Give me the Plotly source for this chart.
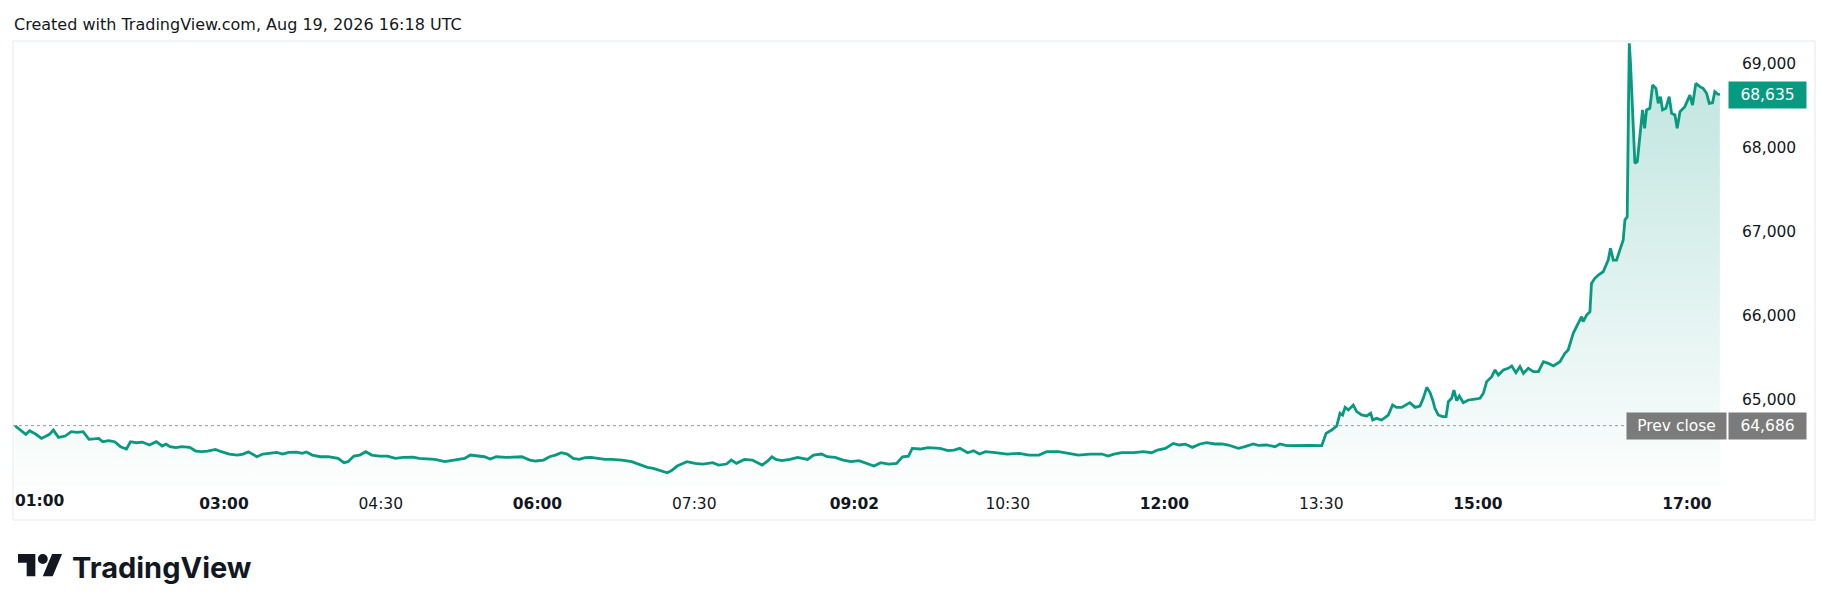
import pandas as pd
import plotly.graph_objects as go

# minutes after 01:00 local time, and price
mins = [
    0, 3.9, 6.2, 8.4, 11.8, 15.2, 17.5, 19.8, 22.0, 25.0, 28.8, 32.3, 35.7, 39.1, 42.5, 45.9,
    48.1, 50.4, 53.8, 57.2, 60.6, 64.0, 66.3, 69.7, 73.1, 77.2, 81.1, 84.5, 86.7, 89.0, 92.4,
    95.8, 100.3, 103.8, 107.2, 110.6, 115.1, 118.5, 123.1, 127.6, 131.0, 134.0, 138.9, 142.3,
    145.8, 150.3, 153.7, 157.1, 161.6, 165.0, 167.3, 170.7, 175.3, 179.8, 185.5, 188.9, 191.2,
    194.6, 198.0, 201.4, 204.8, 209.3, 213.9, 218.4, 222.9, 228.6, 232.0, 236.6, 241.1, 246.8,
    250.2, 254.7, 258.1, 261.5, 266.1, 269.5, 272.9, 276.3, 282.0, 286.5, 291.0, 295.6, 299.0,
    303.5, 306.9, 310.3, 313.7, 317.1, 320.5, 323.9, 327.4, 330.8, 334.2, 338.7,
    342.7, 348.4, 354.1, 359.7, 363.1, 366.5, 370.0, 374.5, 376.8, 380.2, 385.8, 390.4, 394.9,
    400.6, 404.0, 408.5, 411.3, 414.2, 418.8, 423.3, 429.0, 432.4, 434.6, 436.9, 440.3, 444.9,
    449.4, 455.1, 458.5, 463.0, 466.4, 470.9, 475.5, 480.0, 484.6, 489.1, 493.2, 497.1, 501.6,
    506.2, 509.6, 513.0, 515.2, 519.8, 524.3, 531.1, 535.7, 539.1, 542.5, 547.0, 550.4, 553.8,
    557.2, 562.9, 569.7, 576.5, 582.2, 587.9, 592.4, 599.2, 604.9, 610.6, 617.4, 624.2, 627.6,
    631.0, 635.5, 642.4, 648.0, 652.6, 656.0, 660.5, 665.1, 668.5, 671.9, 676.0,
    680.4, 684.2, 689.0, 692.8, 696.7, 702.4, 706.2, 711.0, 713.9, 718.7, 723.5, 726.3, 730.2,
    735.9, 743.6, 750.3, 752.8, 756.0, 758.9, 760.8, 762.3, 763.7, 765.6, 768.4, 770.4, 773.2,
    776.1, 778.4, 779.6, 781.8, 784.7, 788.5, 791.0, 793.3, 796.2, 800.9, 803.9, 806.7, 808.6,
    810.6, 812.5, 814.0, 815.3, 817.2, 819.7, 821.7, 823.0, 824.9, 826.2, 827.8, 829.3, 831.6,
    834.5, 837.3, 841.2, 843.1, 845.0, 847.9, 849.8, 851.7, 854.6, 857.4, 859.4, 861.8, 864.1,
    866.1, 868.9, 871.8, 874.7, 877.6, 880.4, 883.3, 887.1,
    889.9, 891.8, 894.7, 897.6, 899.5, 900.4, 902.4, 904.3, 905.2, 907.1, 909.1, 911.9, 914.8,
    916.1, 917.7, 919.6, 921.5, 923.4, 924.4, 925.7, 926.5, 926.9, 927.6, 929.2, 930.1, 931.5,
    932.6, 934.5, 935.7, 936.8, 938.7, 940.3, 942.2, 943.5, 944.8, 946.0, 947.9, 949.8, 951.2,
    953.1, 954.4, 956.0, 958.8, 961.7, 963.2, 965.1, 967.4, 969.3, 971.3, 972.8, 974.7, 976.0,
    977.6, 978.9,
]
price = [
    64685, 64614, 64582, 64625, 64586, 64534, 64562, 64582, 64633, 64546, 64562, 64614, 64606,
    64614, 64522, 64530, 64534, 64494, 64506, 64494, 64435, 64407, 64494, 64482, 64490, 64455,
    64494, 64443, 64466, 64435, 64423, 64435, 64427, 64383, 64375, 64383, 64403, 64375, 64347,
    64335, 64347, 64375, 64315, 64347, 64355, 64367, 64347, 64367, 64371, 64355, 64371, 64335,
    64315, 64315, 64295, 64244, 64256, 64323, 64335, 64375, 64335, 64323, 64323, 64295, 64307,
    64311, 64295, 64291, 64283, 64256, 64268, 64283, 64295, 64335, 64323, 64315, 64287, 64315,
    64307, 64307, 64315, 64275, 64264, 64275, 64315, 64335, 64363, 64347, 64295, 64283, 64303,
    64307, 64295, 64283,
    64283, 64275, 64256, 64216, 64188, 64176, 64156, 64124, 64148, 64204, 64256, 64236, 64228,
    64244, 64216, 64228, 64275, 64236, 64283, 64275, 64216, 64268, 64315, 64283, 64268, 64283,
    64307, 64283, 64335, 64347, 64315, 64307, 64275, 64256, 64268, 64236, 64204, 64244, 64228,
    64236, 64315, 64323, 64415, 64407, 64423, 64415, 64387, 64395, 64415, 64363, 64387, 64347,
    64375, 64363, 64347, 64355, 64335, 64335, 64375, 64375, 64355, 64335, 64347, 64347, 64323,
    64347, 64363, 64363, 64375, 64363, 64395, 64415, 64474, 64455, 64466, 64427,
    64467, 64483, 64467, 64467, 64455, 64415, 64435, 64467, 64451, 64455, 64435, 64467, 64447,
    64451, 64451, 64447, 64594, 64634, 64682, 64833, 64813, 64904, 64873, 64932, 64853, 64813,
    64801, 64833, 64753, 64773, 64753, 64813, 64932, 64904, 64904, 64960, 64904, 64920, 65012,
    65143, 65080, 64992, 64893, 64813, 64793, 64793, 64972, 65012, 65111, 64984, 65040, 64960,
    64992, 65000, 65012, 65072, 65211, 65270, 65350, 65290, 65350, 65370, 65398, 65318, 65390,
    65310, 65370, 65330, 65330, 65449, 65429, 65398, 65449,
    65548, 65588, 65787, 65906, 65986, 65926, 66005, 66045, 66383, 66443, 66483, 66522, 66661,
    66801, 66661, 66661, 66781, 66900, 67139, 67178, 68610, 69247, 69008, 68213, 67815, 67835,
    68093, 68451, 68232, 68451, 68471, 68749, 68709, 68530, 68610, 68451, 68471, 68610, 68411,
    68391, 68232, 68431, 68491, 68630, 68510, 68769, 68729, 68709, 68650, 68530, 68538, 68670,
    68642, 68635,
]

prev_close = 64686
y_ticks = [65000, 66000, 67000, 68000, 69000]
x_tick_times = ["03:00", "04:30", "06:00", "07:30", "09:02", "10:30", "12:00", "13:30", "15:00", "17:00"]
bold_ticks = ["03:00", "06:00", "09:02", "12:00", "15:00", "17:00"]

day = "2026-08-19 "
times = pd.Timestamp(day + "01:00") + pd.to_timedelta(mins, unit="min")

GREEN = "#089981"
TXT = "#131722"
FONT = "DejaVu Sans"

# the page body adds 8px around the figure, so work in page pixels and subtract it
OFF = 8
W, H = 1830 - OFF, 611 - OFF
L, R, T, B = 13, 1727, 41, 487  # plot pane in page pixels
def px(x):
    return (x - L) / (R - L)
def py(y):
    return (B - y) / (B - T)

y_lo, y_hi = 63954, 69274

fig = go.Figure()
fig.add_trace(go.Scatter(
    x=times, y=price, mode="lines",
    line=dict(color=GREEN, width=2.8),
    fill="tozeroy",
    fillgradient=dict(type="vertical", start=y_lo, stop=y_hi,
                      colorscale=[[0, "rgba(8,153,129,0.01)"], [1, "rgba(8,153,129,0.27)"]]),
    hoverinfo="skip", showlegend=False,
))

tick_text = [f"<b>{t}</b>" if t in bold_ticks else t for t in x_tick_times]

fig.update_layout(
    width=W, height=H,
    margin=dict(l=L - OFF, r=1830 - R, t=T - OFF, b=611 - B),
    paper_bgcolor="white", plot_bgcolor="white",
    font=dict(family=FONT, size=15.5, color=TXT),
    xaxis=dict(
        type="date",
        range=[pd.Timestamp(day + "01:00") - pd.Timedelta(minutes=1.15),
               pd.Timestamp(day + "01:00") + pd.Timedelta(minutes=983)],
        tickvals=[pd.Timestamp(day + t) for t in x_tick_times],
        ticktext=tick_text,
        showgrid=False, zeroline=False, showline=False, ticks="",
        ticklabelstandoff=5,
    ),
    yaxis=dict(
        side="right",
        range=[y_lo, y_hi],
        tickvals=y_ticks,
        ticktext=[f"{v:,}" for v in y_ticks],
        showgrid=False, zeroline=False, showline=False, ticks="",
        ticklabelstandoff=14,
    ),
)

# prev close dotted line
fig.add_shape(type="line", xref="paper", yref="y", x0=0, x1=1, y0=prev_close, y1=prev_close,
              line=dict(color="#9598a1", width=1, dash="dot"))

# frame around chart and time axis
fig.add_shape(type="rect", xref="paper", yref="paper",
              x0=px(13), x1=px(1815), y0=py(520), y1=py(41),
              line=dict(color="#e6e8ee", width=1), layer="below")

# first time label sits left-aligned at the pane edge
fig.add_annotation(x=pd.Timestamp(day + "01:00"), xref="x", y=py(501), yref="paper",
                   text="<b>01:00</b>", showarrow=False, xanchor="left", yanchor="middle",
                   xshift=-2, font=dict(family=FONT, size=15.5, color=TXT))

# price labels
fig.add_annotation(x=1, xref="paper", y=price[-1], yref="y", text=f"{price[-1]:,}",
                   showarrow=False, xanchor="left", yanchor="middle", xshift=1,
                   width=77, height=26, bgcolor=GREEN, borderpad=0,
                   font=dict(family=FONT, size=15.5, color="white"))
fig.add_annotation(x=1, xref="paper", y=prev_close, yref="y", text="Prev close",
                   showarrow=False, xanchor="right", yanchor="middle",
                   width=99, height=26, bgcolor="#7b7b7b", borderpad=0,
                   font=dict(family=FONT, size=15.5, color="white"))
fig.add_annotation(x=1, xref="paper", y=prev_close, yref="y", text=f"{prev_close:,}",
                   showarrow=False, xanchor="left", yanchor="middle", xshift=1,
                   width=77, height=26, bgcolor="#7b7b7b", borderpad=0,
                   font=dict(family=FONT, size=15.5, color="white"))

# header
fig.add_annotation(x=px(12), xref="paper", y=py(24), yref="paper",
                   text="Created with TradingView.com, Aug 19, 2026 16:18 UTC",
                   showarrow=False, xanchor="left", yanchor="middle",
                   font=dict(family=FONT, size=16, color=TXT))

# TradingView logo: mark drawn from its 36x28 outline, then the word
s = 44 / 35.5
ox, oy = 18, 554 - 4 * s
def lp(u, v):
    return f"{px(ox + u * s):.5f},{py(oy + v * s):.5f}"
mark_t = "M" + " L".join(lp(u, v) for u, v in [(14, 22), (7, 22), (7, 11), (0, 11), (0, 4), (14, 4)]) + " Z"
mark_s = "M" + " L".join(lp(u, v) for u, v in [(28, 22), (20, 22), (27.5, 4), (35.5, 4)]) + " Z"
for p in (mark_t, mark_s):
    fig.add_shape(type="path", xref="paper", yref="paper", path=p,
                  fillcolor=TXT, line=dict(width=0))
fig.add_shape(type="circle", xref="paper", yref="paper",
              x0=px(ox + 16 * s), x1=px(ox + 24 * s), y0=py(oy + 12 * s), y1=py(oy + 4 * s),
              fillcolor=TXT, line=dict(width=0))
fig.add_annotation(x=px(70), xref="paper", y=py(567), yref="paper", text="<b>TradingView</b>",
                   showarrow=False, xanchor="left", yanchor="middle",
                   font=dict(family="Inter", size=29, color=TXT))

fig.write_html("out.html")
